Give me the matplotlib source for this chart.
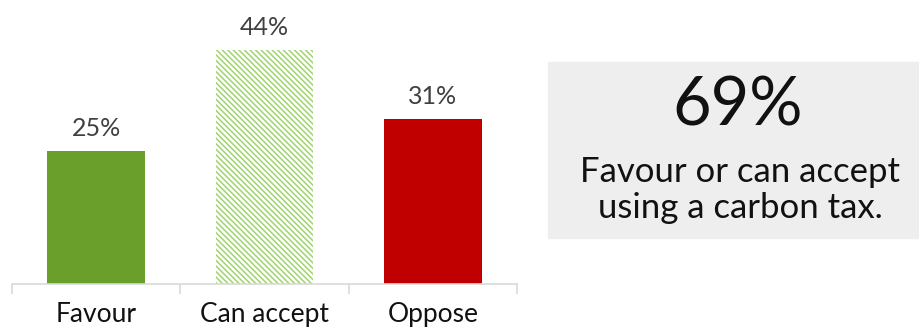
import matplotlib
matplotlib.use("Agg")
import matplotlib.pyplot as plt
from matplotlib.patches import Rectangle

categories = ["Favour", "Can accept", "Oppose"]
values = [25, 44, 31]
colors = ["#6a9f2c", "#ffffff", "#c00000"]
hatches = [None, "\\\\\\\\\\\\", None]
headline = "69%"
caption = "Favour or can accept\nusing a carbon tax."

plt.rcParams["font.family"] = ["Lato", "DejaVu Sans"]
plt.rcParams["hatch.linewidth"] = 1.1

fig = plt.figure(figsize=(9.19, 3.33), dpi=100)
ax = fig.add_axes([12 / 919, 49 / 333, 505 / 919, 284 / 333])

x = list(range(len(categories)))
for i, (v, c, h) in enumerate(zip(values, colors, hatches)):
    if h:
        ax.bar(i, v, width=0.58, color=c, edgecolor="#9fd46e", hatch=h, linewidth=0)
    else:
        ax.bar(i, v, width=0.58, color=c, linewidth=0)
    ax.text(i, v + 2.0, f"{v}%", ha="center", va="bottom", fontsize=18, color="#404040")

ax.set_xlim(-0.5, 2.5)
ax.set_ylim(0, 53.4)
ax.set_yticks([])
for s in ["top", "right", "left"]:
    ax.spines[s].set_visible(False)
ax.spines["bottom"].set_color("#d9d9d9")
ax.spines["bottom"].set_linewidth(1.2)
ax.set_xticks(x)
ax.set_xticklabels(categories, fontsize=19, color="#111111")
ax.tick_params(axis="x", which="major", length=0, pad=13)
ax.set_xticks([-0.5, 0.5, 1.5, 2.5], minor=True)
ax.tick_params(axis="x", which="minor", length=7, color="#d9d9d9", width=1.2)

# summary box on the right
fig.patches.append(Rectangle((548 / 919, (333 - 238) / 333), 370 / 919, 176 / 333,
                             transform=fig.transFigure, color="#eeeeee", zorder=0))
fig.text(738 / 919, (333 - 106) / 333, headline, ha="center", va="center", fontsize=48, color="#111111")
fig.text(740 / 919, (333 - 190) / 333, caption, ha="center", va="center", fontsize=25,
         color="#111111", linespacing=1.15)

fig.savefig("out.png", dpi=100)
